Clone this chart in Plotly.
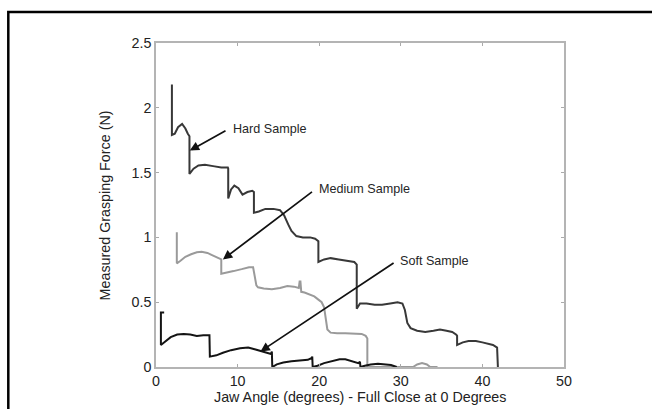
import plotly.graph_objects as go

# Jaw angle (deg) vs. measured grasping force (N) for three sample stiffnesses
hard_angle = [1.95, 1.95, 2.3, 2.7, 3.2, 3.6, 3.9, 4.1, 4.1, 4.6, 5.2, 6.0, 7.0, 8.0, 8.8, 8.85,
              8.85, 9.2, 9.6, 10.1, 10.6, 11.2, 11.8, 12.0, 12.0, 12.6, 13.4, 14.4, 15.2, 15.7,
              16.2, 16.6, 17.2, 18.0, 18.9, 19.5, 19.9, 19.9, 20.6, 21.4, 22.4, 23.5, 24.3, 24.6,
              24.6, 25.0, 25.8, 26.8, 27.7, 28.7, 29.6, 30.2, 30.5, 30.8, 31.2, 32.0, 33.0, 34.0,
              34.8, 35.6, 36.3, 36.8, 36.9, 36.9, 37.6, 38.3, 39.2, 40.0, 40.7, 41.3, 41.8, 41.9]
hard_force = [2.18, 1.79, 1.80, 1.85, 1.875, 1.84, 1.80, 1.78, 1.49, 1.53, 1.555, 1.56, 1.55, 1.54,
              1.54, 1.53, 1.30, 1.37, 1.40, 1.38, 1.33, 1.35, 1.36, 1.35, 1.19, 1.20, 1.22, 1.22,
              1.21, 1.17, 1.10, 1.05, 1.01, 1.00, 1.00, 0.99, 0.97, 0.81, 0.83, 0.84, 0.83, 0.82,
              0.81, 0.79, 0.45, 0.49, 0.49, 0.48, 0.48, 0.49, 0.50, 0.49, 0.44, 0.34, 0.30, 0.28,
              0.27, 0.28, 0.29, 0.28, 0.27, 0.25, 0.24, 0.17, 0.19, 0.20, 0.20, 0.19, 0.18, 0.17,
              0.15, 0.0]

medium_angle = [2.55, 2.55, 3.0, 3.6, 4.3, 5.0, 5.6, 6.3, 7.0, 7.6, 8.0, 8.0, 8.6, 9.5, 10.5, 11.4,
                11.9, 12.1, 12.3, 12.5, 13.2, 14.2, 15.2, 16.1, 16.9, 17.5, 17.6, 17.7, 17.8, 18.2,
                18.8, 19.4, 19.9, 20.3, 20.6, 20.8, 21.0, 21.4, 22.2, 23.2, 24.3, 25.2, 25.7, 25.9,
                25.9, 26.2, 31.5, 32.0, 32.6, 33.2, 33.6, 34.5]
medium_force = [1.04, 0.80, 0.82, 0.85, 0.87, 0.885, 0.89, 0.88, 0.86, 0.84, 0.83, 0.72, 0.73, 0.74,
                0.755, 0.77, 0.77, 0.70, 0.63, 0.615, 0.605, 0.60, 0.61, 0.625, 0.62, 0.61, 0.66,
                0.66, 0.58, 0.575, 0.56, 0.545, 0.52, 0.50, 0.46, 0.38, 0.29, 0.265, 0.26, 0.26,
                0.255, 0.255, 0.24, 0.22, 0.0, 0.0, 0.0, 0.02, 0.03, 0.02, 0.0, 0.0]

soft_angle = [1.0, 0.6, 0.6, 1.2, 1.8, 2.6, 3.4, 4.2, 5.0, 5.8, 6.55, 6.6, 7.4, 8.2, 9.2, 10.3, 11.3,
              12.2, 13.0, 13.8, 14.1, 14.2, 14.25, 14.8, 15.6, 16.6, 17.7, 18.6, 19.1, 19.15, 19.2,
              19.8, 20.6, 21.6, 22.5, 23.2, 24.0, 24.8, 25.0, 25.05, 25.6, 26.3, 27.2, 28.0, 28.8,
              29.5]
soft_force = [0.42, 0.42, 0.17, 0.20, 0.23, 0.25, 0.255, 0.25, 0.24, 0.245, 0.245, 0.08, 0.09, 0.11,
              0.13, 0.145, 0.15, 0.135, 0.12, 0.10, 0.10, 0.12, 0.0, 0.02, 0.035, 0.045, 0.05, 0.055,
              0.07, 0.08, 0.0, 0.01, 0.03, 0.045, 0.06, 0.06, 0.045, 0.03, 0.04, 0.0, 0.01, 0.02,
              0.025, 0.02, 0.015, 0.0]

x_ticks = [0, 10, 20, 30, 40, 50]
y_ticks = [0, 0.5, 1, 1.5, 2, 2.5]
y_tick_text = ["0", "0.5", "1", "1.5", "2", "2.5"]

# label text, arrow head (angle, force), arrow tail (angle, force)
labels = ["Hard Sample", "Medium Sample", "Soft Sample"]
label_heads = [(4.14, 1.67), (8.2, 0.83), (12.8, 0.12)]
label_tails = [(8.7, 1.83), (19.3, 1.36), (29.3, 0.81)]
label_pos = [(9.2, 1.84), (19.75, 1.37), (29.7, 0.82)]

FONT = "Liberation Sans, Arial, sans-serif"

fig = go.Figure()
fig.add_trace(go.Scatter(x=hard_angle, y=hard_force, mode="lines",
                         line=dict(color="#383838", width=2), name="Hard"))
fig.add_trace(go.Scatter(x=medium_angle, y=medium_force, mode="lines",
                         line=dict(color="#9a9a9a", width=2), name="Medium"))
fig.add_trace(go.Scatter(x=soft_angle, y=soft_force, mode="lines",
                         line=dict(color="#141414", width=2), name="Soft"))

annotations = []
for (hx, hy), (tx, ty) in zip(label_heads, label_tails):
    annotations.append(dict(x=hx, y=hy, ax=tx, ay=ty, xref="x", yref="y", axref="x", ayref="y",
                            text="", showarrow=True, arrowhead=2, arrowsize=1.1, arrowwidth=1.7,
                            arrowcolor="#111111", standoff=0, startstandoff=0))
for txt, (lx, ly) in zip(labels, label_pos):
    annotations.append(dict(x=lx, y=ly, xref="x", yref="y", text=txt, showarrow=False,
                            xanchor="left", yanchor="middle",
                            font=dict(family=FONT, size=12.6, color="#262626")))

# axis titles
annotations.append(dict(x=0.5, y=-0.092, xref="paper", yref="paper",
                        text="Jaw Angle (degrees) - Full Close at 0 Degrees", showarrow=False,
                        xanchor="center", yanchor="middle",
                        font=dict(family=FONT, size=14.3, color="#222222")))
annotations.append(dict(x=-0.124, y=0.5, xref="paper", yref="paper",
                        text="Measured Grasping Force (N)", showarrow=False, textangle=-90,
                        xanchor="center", yanchor="middle",
                        font=dict(family=FONT, size=14.3, color="#222222")))

# outer frame: top and left rules
shapes = [dict(type="path", xref="paper", yref="paper",
               path="M -0.362,-0.2 L -0.362,1.0957 L 1.3,1.0957",
               line=dict(color="black", width=2.5))]

fig.update_layout(
    width=652, height=409,
    margin=dict(l=155.5, r=88, t=43, b=42),
    paper_bgcolor="white", plot_bgcolor="white",
    showlegend=False,
    font=dict(family=FONT, size=14, color="#222222"),
    annotations=annotations,
    shapes=shapes,
)
fig.update_xaxes(range=[0, 50], tickvals=x_ticks, ticks="inside", ticklen=3, tickcolor="#aaaaaa",
                 showline=True, linecolor="#b4b4b4", linewidth=1.5, mirror="ticks",
                 showgrid=False, zeroline=False, tickfont=dict(size=14.3, color="#222222"))
fig.update_yaxes(range=[0, 2.5], tickvals=y_ticks, ticktext=y_tick_text, ticks="inside", ticklen=3,
                 tickcolor="#aaaaaa", showline=True, linecolor="#b4b4b4", linewidth=1.5,
                 mirror="ticks", showgrid=False, zeroline=False,
                 tickfont=dict(size=14.3, color="#222222"))

fig.write_html("out.html")
